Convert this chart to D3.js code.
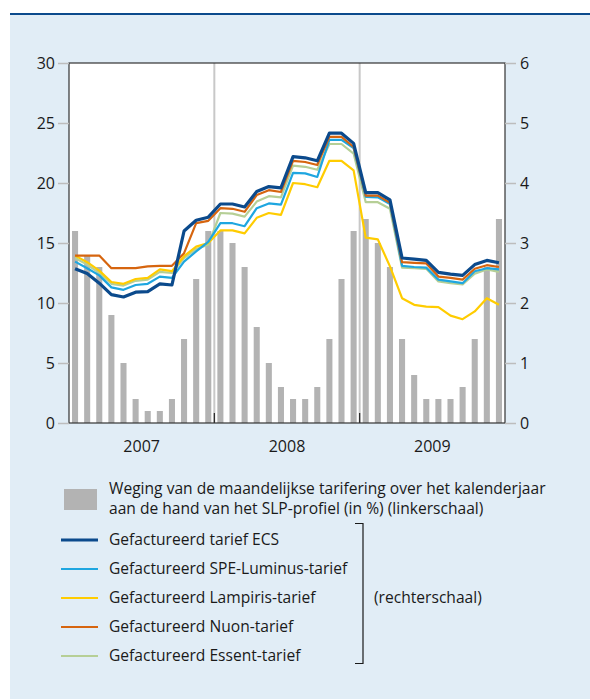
<!DOCTYPE html>
<html>
<head>
<meta charset="utf-8">
<script src="https://cdn.jsdelivr.net/npm/d3@7"></script>
<style>
  body { margin: 0; background: #fff; }
  svg text { font-family: "Open Sans", "Noto Sans", sans-serif; fill: #1a1a1a; }
</style>
</head>
<body>
<svg id="chart"></svg>
<script>
// calendar years shown on the x axis
const years = ['2007', '2008', '2009'];
const months = years.flatMap(y => d3.range(1, 13).map(m => y + '-' + m));

// weight of monthly billing (in %), left scale
const weights = [
    16, 14, 13, 9, 5, 2, 1, 1, 2, 7, 12, 16,
    16, 15, 13, 8, 5, 3, 2, 2, 3, 7, 12, 16,
    17, 15, 13, 7, 4, 2, 2, 2, 3, 7, 13, 17
];

// billed tariffs, right scale
const ecs = [
    2.57, 2.49, 2.33, 2.14, 2.10, 2.18, 2.19, 2.32, 2.30, 3.20, 3.38, 3.43,
    3.65, 3.65, 3.60, 3.86, 3.94, 3.92, 4.44, 4.42, 4.37, 4.83, 4.83, 4.66,
    3.84, 3.84, 3.72, 2.75, 2.73, 2.71, 2.51, 2.48, 2.46, 2.64, 2.71, 2.67
];
const speLuminus = [
    2.69, 2.58, 2.46, 2.26, 2.22, 2.30, 2.32, 2.44, 2.42, 2.69, 2.86, 3.02,
    3.33, 3.33, 3.28, 3.58, 3.66, 3.64, 4.17, 4.16, 4.10, 4.72, 4.72, 4.58,
    3.77, 3.76, 3.65, 2.62, 2.60, 2.59, 2.39, 2.36, 2.33, 2.53, 2.58, 2.56
];
const lampiris = [
    2.79, 2.68, 2.54, 2.35, 2.32, 2.40, 2.42, 2.56, 2.53, 2.78, 2.94, 3.00,
    3.21, 3.21, 3.16, 3.42, 3.50, 3.47, 4.00, 3.98, 3.93, 4.37, 4.37, 4.21,
    3.09, 3.06, 2.61, 2.08, 1.97, 1.94, 1.93, 1.79, 1.73, 1.86, 2.08, 1.97
];
const nuon = [
    2.79, 2.79, 2.79, 2.58, 2.58, 2.58, 2.61, 2.62, 2.62, 2.83, 3.33, 3.37,
    3.58, 3.57, 3.52, 3.80, 3.88, 3.85, 4.37, 4.35, 4.30, 4.77, 4.77, 4.60,
    3.79, 3.79, 3.67, 2.68, 2.67, 2.66, 2.44, 2.42, 2.39, 2.57, 2.63, 2.60
];
const essent = [
    2.75, 2.64, 2.50, 2.32, 2.29, 2.37, 2.39, 2.52, 2.50, 2.75, 2.90, 2.97,
    3.50, 3.49, 3.44, 3.69, 3.78, 3.76, 4.29, 4.27, 4.22, 4.65, 4.65, 4.49,
    3.68, 3.68, 3.57, 2.59, 2.58, 2.57, 2.36, 2.33, 2.31, 2.49, 2.56, 2.52
];

const leftTicks = [0, 5, 10, 15, 20, 25, 30];
const rightTicks = [0, 1, 2, 3, 4, 5, 6];

const barLabel = ['Weging van de maandelijkse tarifering over het kalenderjaar',
                  'aan de hand van het SLP-profiel (in %) (linkerschaal)'];
const series = [
    {name: 'Gefactureerd tarief ECS', values: ecs, color: '#0b4a8c', width: 3.2},
    {name: 'Gefactureerd SPE-Luminus-tarief', values: speLuminus, color: '#1ea6e0', width: 2.2},
    {name: 'Gefactureerd Lampiris-tarief', values: lampiris, color: '#ffcc00', width: 2.2},
    {name: 'Gefactureerd Nuon-tarief', values: nuon, color: '#d6650f', width: 2.2},
    {name: 'Gefactureerd Essent-tarief', values: essent, color: '#b6cf96', width: 2.2}
];
const drawOrder = [4, 2, 1, 3, 0];

const W = 590, H = 700;
const margin = {top: 63, left: 69, right: 85, bottom: 277};
const fs = '15.6px';

const svg = d3.select('#chart').attr('width', W).attr('height', H);

// panel background
svg.append('rect').attr('x', 10).attr('y', 13).attr('width', W - 10).attr('height', 686)
    .attr('fill', '#e1edf6');
svg.append('rect').attr('x', 10).attr('y', 13).attr('width', W - 10).attr('height', 2)
    .attr('fill', '#0b4a8c');

const innerW = W - margin.left - margin.right;
const innerH = H - margin.top - margin.bottom;

const chart = svg.append('g').attr('transform', `translate(${margin.left}, ${margin.top})`);

const x = d3.scaleBand().domain(months).range([0, innerW]).paddingInner(0.5).paddingOuter(0.25);
const yLeft = d3.scaleLinear().domain([0, 30]).range([innerH, 0]);
const yRight = d3.scaleLinear().domain([0, 6]).range([innerH, 0]);

chart.append('rect').attr('width', innerW).attr('height', innerH).attr('fill', '#fff');

// bars
chart.selectAll('rect.bar').data(weights).enter()
    .append('rect').attr('class', 'bar')
    .attr('x', (d, i) => x(months[i]))
    .attr('y', d => yLeft(d))
    .attr('width', x.bandwidth())
    .attr('height', d => innerH - yLeft(d))
    .attr('fill', '#b3b3b3');

// year separators
const sepX = years.slice(1).map(y => x(y + '-1') - (x.step() - x.bandwidth()) / 2);
chart.selectAll('line.sep').data(sepX).enter()
    .append('line')
    .attr('x1', d => d).attr('x2', d => d)
    .attr('y1', 0).attr('y2', innerH)
    .attr('stroke', '#c8c8c8').attr('stroke-width', 2);
chart.selectAll('line.septick').data(sepX).enter()
    .append('line')
    .attr('x1', d => d).attr('x2', d => d)
    .attr('y1', innerH - 10).attr('y2', innerH)
    .attr('stroke', '#222').attr('stroke-width', 1.2);

// lines
const line = d3.line()
    .x((d, i) => x(months[i]) + x.bandwidth() / 2)
    .y(d => yRight(d));

drawOrder.forEach(k => {
    const s = series[k];
    chart.append('path').datum(s.values)
        .attr('d', line)
        .attr('fill', 'none')
        .attr('stroke', s.color)
        .attr('stroke-width', s.width)
        .attr('stroke-linejoin', 'round');
});

// frame
chart.append('rect').attr('width', innerW).attr('height', innerH)
    .attr('fill', 'none').attr('stroke', '#333').attr('stroke-width', 1.2);

// axes
const leftAxis = d3.axisLeft(yLeft).tickValues(leftTicks).tickSize(11).tickPadding(3)
    .tickFormat(d3.format('d'));
const rightAxis = d3.axisRight(yRight).tickValues(rightTicks).tickSize(11).tickPadding(4)
    .tickFormat(d3.format('d'));

const gl = chart.append('g').call(leftAxis);
const gr = chart.append('g').attr('transform', `translate(${innerW}, 0)`).call(rightAxis);
[gl, gr].forEach(g => {
    g.select('.domain').remove();
    g.selectAll('.tick line').attr('stroke', '#bdbdbd').attr('stroke-width', 1.5);
    g.selectAll('.tick text').style('font-size', '16px').attr('fill', '#1a1a1a');
});

// year labels
chart.selectAll('text.year').data(years).enter()
    .append('text')
    .attr('x', d => (x(d + '-1') + x(d + '-12') + x.bandwidth()) / 2)
    .attr('y', innerH + 29)
    .attr('text-anchor', 'middle')
    .style('font-size', '16px')
    .text(d => d);

// legend
const legend = svg.append('g');
legend.append('rect').attr('x', 64).attr('y', 489).attr('width', 33).attr('height', 21)
    .attr('fill', '#b3b3b3');
legend.selectAll('text.bl').data(barLabel).enter()
    .append('text')
    .attr('x', 109).attr('y', (d, i) => 494 + i * 20)
    .style('font-size', fs)
    .text(d => d);

const items = legend.selectAll('g.item').data(series).enter()
    .append('g')
    .attr('transform', (d, i) => `translate(0, ${540 + i * 29})`);
items.append('line')
    .attr('x1', 61).attr('x2', 98)
    .attr('stroke', d => d.color)
    .attr('stroke-width', d => d.width);
items.append('text')
    .attr('x', 109).attr('dy', '0.35em')
    .style('font-size', fs)
    .text(d => d.name);

// bracket
legend.append('path')
    .attr('d', 'M355,523.5H363V663.5H355')
    .attr('fill', 'none').attr('stroke', '#1a1a1a').attr('stroke-width', 1.2);
legend.append('text')
    .attr('x', 374).attr('y', 598).attr('dy', '0.35em')
    .style('font-size', fs)
    .text('(rechterschaal)');
</script>
</body>
</html>
